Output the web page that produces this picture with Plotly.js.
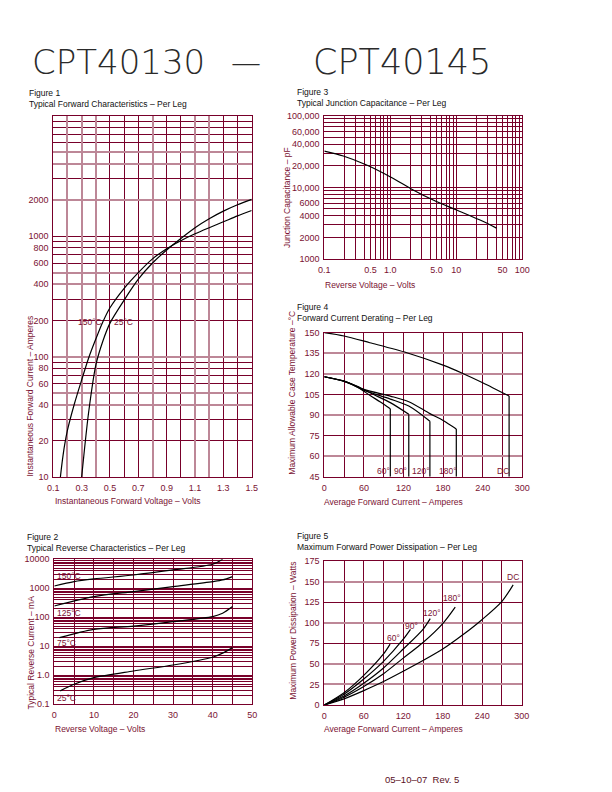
<!DOCTYPE html>
<html><head><meta charset="utf-8">
<script src="https://cdn.plot.ly/plotly-3.0.1.min.js"></script>
<style>html,body{margin:0;padding:0;background:#fff}</style>
</head><body><div id="chart" style="width:612px;height:792px"></div>
<script>
// ---------- Figure 1: forward characteristics ----------
const f1_V150 = [0.15, 0.165, 0.18, 0.2, 0.25, 0.3, 0.35, 0.4, 0.45, 0.5, 0.6, 0.7, 0.8, 0.9, 1.0, 1.1, 1.2, 1.3, 1.4, 1.5];
const f1_I150 = [10, 14, 18.5, 24.5, 41, 64, 98, 140, 195, 255, 370, 500, 650, 790, 920, 1050, 1180, 1320, 1480, 1640];
const f1_V25  = [0.3, 0.32, 0.35, 0.4, 0.45, 0.5, 0.6, 0.7, 0.8, 0.9, 1.0, 1.1, 1.2, 1.3, 1.4, 1.5];
const f1_I25  = [10, 17, 35, 85, 135, 190, 295, 440, 600, 770, 960, 1180, 1400, 1620, 1830, 2030];
const f1_xTicks = [0.1, 0.3, 0.5, 0.7, 0.9, 1.1, 1.3, 1.5];
const f1_xText  = ['0.1','0.3','0.5','0.7','0.9','1.1','1.3','1.5'];
const f1_yTicks = [10, 20, 40, 60, 80, 100, 200, 400, 600, 800, 1000, 2000];
const f1_yText  = ['10','20','40','60','80','100','200','400','600','800','1000','2000'];

// ---------- Figure 3: junction capacitance ----------
const f3_V = [0.1, 0.194, 0.438, 0.99, 2.22, 4.47, 10.1, 22.9, 40.7];
const f3_C = [32000, 27400, 20500, 14100, 9200, 6650, 4830, 3500, 2700];
const f3_xTicks = [0.1, 0.5, 1, 5, 10, 50, 100];
const f3_xText  = ['0.1','0.5','1.0','5.0','10','50','100'];
const f3_yTicks = [1000, 2000, 4000, 6000, 10000, 20000, 40000, 60000, 100000];
const f3_yText  = ['1000','2000','4000','6000','10,000','20,000','40,000','60,000','100,000'];

// ---------- Figure 4: forward current derating ----------
const f4_A_DC  = [0, 30, 69, 125, 180, 210, 240, 280];
const f4_T_DC  = [150, 147.6, 142.7, 135.4, 126.4, 120.3, 113.5, 103.8];
const f4_A_60  = [0, 30, 50, 70, 85, 100];
const f4_T_60  = [117.9, 114.5, 110.5, 104, 99.5, 94.5];
const f4_A_90  = [0, 30, 50, 70, 100, 128];
const f4_T_90  = [117.9, 114.6, 111, 106, 99, 90.5];
const f4_A_120 = [0, 30, 60, 100, 128, 160];
const f4_T_120 = [117.9, 114.7, 108, 101.6, 96.5, 85.5];
const f4_A_180 = [0, 30, 60, 100, 128, 160, 180, 200];
const f4_T_180 = [117.9, 114.8, 108.7, 103.8, 99.7, 91, 86, 79.8];
const f4_xTicks = [0, 60, 120, 180, 240, 300];
const f4_yTicks = [45, 60, 75, 90, 105, 120, 135, 150];

// ---------- Figure 2: reverse characteristics ----------
const f2_V150 = [0, 5, 10, 20, 30, 40, 42.5];
const f2_I150 = [1200, 1700, 2100, 2880, 4290, 6730, 10000];
const f2_V125 = [0, 10, 20, 30, 40, 42.5, 45];
const f2_I125 = [245, 515, 767, 1140, 1700, 1940, 2530];
const f2_V75  = [1.3, 10, 20, 30, 40, 42.5, 45];
const f2_I75  = [20, 38.5, 50, 71, 106, 138, 235];
const f2_V25  = [1.5, 5, 10, 20, 30, 40, 42.5, 45];
const f2_I25  = [0.29, 0.49, 0.83, 1.41, 2.27, 4.2, 5.8, 9];
const f2_xTicks = [0, 10, 20, 30, 40, 50];
const f2_yTicks = [0.1, 1, 10, 100, 1000, 10000];
const f2_yText  = ['0.1','1.0','10','100','1000','10000'];

// ---------- Figure 5: max forward power dissipation ----------
const f5_A_60  = [0, 30, 60, 90, 100];
const f5_P_60  = [0, 15, 36, 62, 74];
const f5_A_90  = [0, 30, 60, 90, 120, 131];
const f5_P_90  = [0, 13, 31.5, 53, 80, 92];
const f5_A_120 = [0, 30, 60, 90, 120, 150, 161];
const f5_P_120 = [0, 11, 26.5, 45, 68, 92, 105];
const f5_A_180 = [0, 30, 60, 90, 120, 150, 180, 199];
const f5_P_180 = [0, 9.5, 22.5, 38, 57, 76, 99, 119];
const f5_A_DC  = [0, 30, 60, 90, 120, 150, 180, 210, 240, 270, 287];
const f5_P_DC  = [0, 7.5, 17.5, 28.5, 41, 54, 68, 85, 104, 126, 146];
const f5_xTicks = [0, 60, 120, 180, 240, 300];
const f5_yTicks = [0, 25, 50, 75, 100, 125, 150, 175];

// grid lines that print as lighter, wider rules in the original sheet
const f1_xPink = [0.2, 0.3, 0.4, 0.8, 1.1, 1.2];
const f1_yPink = [40, 50, 100, 400, 500, 2000, 4000, 5000];
const f4_yPink = [60, 90, 120, 135];
const f5_yPink = [25, 50, 100, 150];

// ---------- styling / layout helpers ----------
const W = 612, H = 792;
const GRID = '#78002a', PINK = '#bd8797', LBL = '#7a1232', INK = '#111';
const FONT = 'Liberation Sans, Arial, sans-serif';
const px = x => x / W, py = y => 1 - y / H;
function logGrid(lo, hi) {
  const v = [];
  for (let e = lo; e < hi; e++) for (let m = 1; m < 10; m++) v.push(m * Math.pow(10, e));
  v.push(Math.pow(10, hi));
  return v;
}
function linGrid(lo, hi, step) {
  const v = [];
  for (let t = lo; t <= hi + 1e-9; t += step) v.push(+t.toFixed(6));
  return v;
}
const near = (a, b) => Math.abs(a - b) <= 1e-6 * Math.max(1, Math.abs(b));
const without = (all, skip) => all.filter(v => !skip.some(s => near(v, s)));
function axis(opts, darkVals) {
  const a = {
    showline: true, mirror: true, linecolor: GRID, linewidth: 1,
    showgrid: false, zeroline: false, ticks: '', fixedrange: true,
    tickfont: {family: FONT, size: 9, color: LBL},
    ticklabelstandoff: 2,
    minor: {tickmode: 'array', tickvals: darkVals, showgrid: true, gridcolor: GRID, gridwidth: 1, ticklen: 0}
  };
  return Object.assign(a, opts);
}
function pinkAxis(base, anchor, type, range, vals) {
  return {overlaying: base, anchor: anchor, type: type, range: range, fixedrange: true,
    showline: false, zeroline: false, ticks: '', showticklabels: false,
    tickmode: 'array', tickvals: vals, showgrid: true, gridcolor: PINK, gridwidth: 2};
}
function curve(x, y, xa, ya) {
  return {x: x, y: y, xaxis: xa, yaxis: ya, mode: 'lines', type: 'scatter',
          line: {color: '#000', width: 1.2, shape: 'spline', smoothing: 0.8},
          hoverinfo: 'skip', showlegend: false};
}
function drop(x, y, xa, ya, floor) {
  const xe = x[x.length - 1], ye = y[y.length - 1];
  return {x: [xe, xe], y: [ye, floor], xaxis: xa, yaxis: ya, mode: 'lines', type: 'scatter',
          line: {color: '#000', width: 1.2}, hoverinfo: 'skip', showlegend: false};
}
function holder(xa, ya) {
  return {x: [], y: [], xaxis: xa, yaxis: ya, type: 'scatter', mode: 'lines', hoverinfo: 'skip', showlegend: false};
}
function note(text, x, y, o) {
  return Object.assign({text: text, x: px(x), y: py(y), xref: 'paper', yref: 'paper',
    showarrow: false, xanchor: 'center', yanchor: 'middle',
    font: {family: FONT, size: 8.5, color: LBL}}, o || {});
}
function heading(text, x, y) {
  return {text: text, x: px(x), y: py(y), xref: 'paper', yref: 'paper', showarrow: false,
    xanchor: 'left', yanchor: 'top', align: 'left',
    font: {family: FONT, size: 8.5, color: INK}};
}

const f4Floor = f4_yTicks[0];

const data = [
  holder('x6', 'y'), holder('x', 'y6'), holder('x3', 'y7'), holder('x5', 'y8'),
  curve(f1_V150, f1_I150, 'x', 'y'),
  curve(f1_V25, f1_I25, 'x', 'y'),
  curve(f3_V, f3_C, 'x2', 'y2'),
  curve(f4_A_DC, f4_T_DC, 'x3', 'y3'), drop(f4_A_DC, f4_T_DC, 'x3', 'y3', f4Floor),
  curve(f4_A_60, f4_T_60, 'x3', 'y3'), drop(f4_A_60, f4_T_60, 'x3', 'y3', f4Floor),
  curve(f4_A_90, f4_T_90, 'x3', 'y3'), drop(f4_A_90, f4_T_90, 'x3', 'y3', f4Floor),
  curve(f4_A_120, f4_T_120, 'x3', 'y3'), drop(f4_A_120, f4_T_120, 'x3', 'y3', f4Floor),
  curve(f4_A_180, f4_T_180, 'x3', 'y3'), drop(f4_A_180, f4_T_180, 'x3', 'y3', f4Floor),
  curve(f2_V150, f2_I150, 'x4', 'y4'),
  curve(f2_V125, f2_I125, 'x4', 'y4'),
  curve(f2_V75, f2_I75, 'x4', 'y4'),
  curve(f2_V25, f2_I25, 'x4', 'y4'),
  curve(f5_A_60, f5_P_60, 'x5', 'y5'),
  curve(f5_A_90, f5_P_90, 'x5', 'y5'),
  curve(f5_A_120, f5_P_120, 'x5', 'y5'),
  curve(f5_A_180, f5_P_180, 'x5', 'y5'),
  curve(f5_A_DC, f5_P_DC, 'x5', 'y5')
];

const layout = {
  width: W, height: H, margin: {l: 0, r: 0, t: 0, b: 0},
  paper_bgcolor: '#fff', plot_bgcolor: 'rgba(0,0,0,0)', showlegend: false,
  // Figure 1
  xaxis: axis({domain: [px(53.3), px(251.7)], anchor: 'y', range: [0.1, 1.5],
    tickmode: 'array', tickvals: f1_xTicks, ticktext: f1_xText}, without(linGrid(0.1, 1.5, 0.1), f1_xPink)),
  yaxis: axis({domain: [py(477), py(116)], anchor: 'x', type: 'log', range: [1, 4],
    tickmode: 'array', tickvals: f1_yTicks, ticktext: f1_yText}, without(logGrid(1, 4), f1_yPink)),
  xaxis6: pinkAxis('x', 'y', 'linear', [0.1, 1.5], f1_xPink),
  yaxis6: pinkAxis('y', 'x', 'log', [1, 4], f1_yPink),
  // Figure 3
  xaxis2: axis({domain: [px(324.3), px(522.3)], anchor: 'y2', type: 'log', range: [-1, 2],
    tickmode: 'array', tickvals: f3_xTicks, ticktext: f3_xText}, logGrid(-1, 2)),
  yaxis2: axis({domain: [py(259), py(115.7)], anchor: 'x2', type: 'log', range: [3, 5],
    tickmode: 'array', tickvals: f3_yTicks, ticktext: f3_yText}, logGrid(3, 5)),
  // Figure 4
  xaxis3: axis({domain: [px(324.3), px(522.3)], anchor: 'y3', range: [0, 300],
    tickmode: 'array', tickvals: f4_xTicks}, linGrid(0, 300, 30)),
  yaxis3: axis({domain: [py(476.7), py(332.7)], anchor: 'x3', range: [45, 150],
    tickmode: 'array', tickvals: f4_yTicks}, without(f4_yTicks, f4_yPink)),
  yaxis7: pinkAxis('y3', 'x3', 'linear', [45, 150], f4_yPink),
  // Figure 2
  xaxis4: axis({domain: [px(54.3), px(252.3)], anchor: 'y4', range: [0, 50],
    tickmode: 'array', tickvals: f2_xTicks}, linGrid(0, 50, 5)),
  yaxis4: axis({domain: [py(704.3), py(559.3)], anchor: 'x4', type: 'log', range: [-1, 4],
    tickmode: 'array', tickvals: f2_yTicks, ticktext: f2_yText}, logGrid(-1, 4)),
  // Figure 5
  xaxis5: axis({domain: [px(324.3), px(521.7)], anchor: 'y5', range: [0, 300],
    tickmode: 'array', tickvals: f5_xTicks}, linGrid(0, 300, 30)),
  yaxis5: axis({domain: [py(705), py(561)], anchor: 'x5', range: [0, 175],
    tickmode: 'array', tickvals: f5_yTicks}, without(f5_yTicks, f5_yPink)),
  yaxis8: pinkAxis('y5', 'x5', 'linear', [0, 175], f5_yPink),
  annotations: [
    // page title
    {text: 'CPT40130', x: px(30), y: py(62), xref: 'paper', yref: 'paper', showarrow: false,
     xanchor: 'left', yanchor: 'middle', font: {family: 'DejaVu Sans, sans-serif', size: 34, color: '#2a2a2a', weight: 200}},
    {text: '\u2014', x: px(246), y: py(62), xref: 'paper', yref: 'paper', showarrow: false,
     xanchor: 'center', yanchor: 'middle', font: {family: 'DejaVu Sans, sans-serif', size: 30, color: '#2a2a2a', weight: 200}},
    {text: 'CPT40145', x: px(402), y: py(62), xref: 'paper', yref: 'paper', showarrow: false,
     xanchor: 'center', yanchor: 'middle', font: {family: 'DejaVu Sans, sans-serif', size: 35, color: '#2a2a2a', weight: 200}},
    // headings
    heading('Figure 1<br>Typical Forward Characteristics \u2013 Per Leg', 27, 86),
    heading('Figure 3<br>Typical Junction Capacitance \u2013 Per Leg', 295, 85),
    heading('Figure 4<br>Forward Current Derating \u2013 Per Leg', 295, 300),
    heading('Figure 2<br>Typical Reverse Characteristics \u2013 Per Leg', 25, 530),
    heading('Figure 5<br>Maximum Forward Power Dissipation \u2013 Per Leg', 295, 529),
    // axis titles
    note('Instantaneous Forward Current \u2013 Amperes', 29.5, 396, {textangle: -90}),
    note('Instantaneous Forward Voltage \u2013 Volts', 128, 500.5),
    note('Junction Capacitance \u2013 pF', 286.5, 197.5, {textangle: -90}),
    note('Reverse Voltage \u2013 Volts', 370, 285),
    note('Maximum Allowable Case Temperature \u2013\u00b0C', 291.7, 393, {textangle: -90}),
    note('Average Forward Current \u2013 Amperes', 393.5, 501.5),
    note('Typical Reverse Current \u2013 mA', 30, 652.5, {textangle: -90}),
    note('Reverse Voltage \u2013 Volts', 100, 729),
    note('Maximum Power Dissipation \u2013 Watts', 292.7, 631, {textangle: -90}),
    note('Average Forward Current \u2013 Amperes', 393.5, 729),
    // curve labels
    note('150\u00b0C', 90, 322.3), note('25\u00b0C', 123.8, 322.3),
    note('60\u00b0', 383.3, 470.7), note('90\u00b0', 400, 470.7), note('120\u00b0', 420.5, 470.7),
    note('180\u00b0', 447.5, 470.7), note('DC', 502.5, 470.7),
    note('60\u00b0', 393.3, 638.3), note('90\u00b0', 411.5, 626), note('120\u00b0', 432.3, 612.7),
    note('180\u00b0', 452.3, 597.7), note('DC', 513, 577.3),
    note('150\u00b0C', 55, 576, {xanchor: 'left'}), note('125\u00b0C', 55, 613.3, {xanchor: 'left'}),
    note('75\u00b0C', 55, 643.3, {xanchor: 'left'}), note('25\u00b0C', 55, 698.3, {xanchor: 'left'}),
    // footer
    note('05\u201310\u201307  Rev. 5', 422, 779, {font: {family: FONT, size: 9.5, color: '#5a0f1e'}})
  ]
};

Plotly.newPlot('chart', data, layout, {staticPlot: true, displayModeBar: false});
</script>
</body></html>
